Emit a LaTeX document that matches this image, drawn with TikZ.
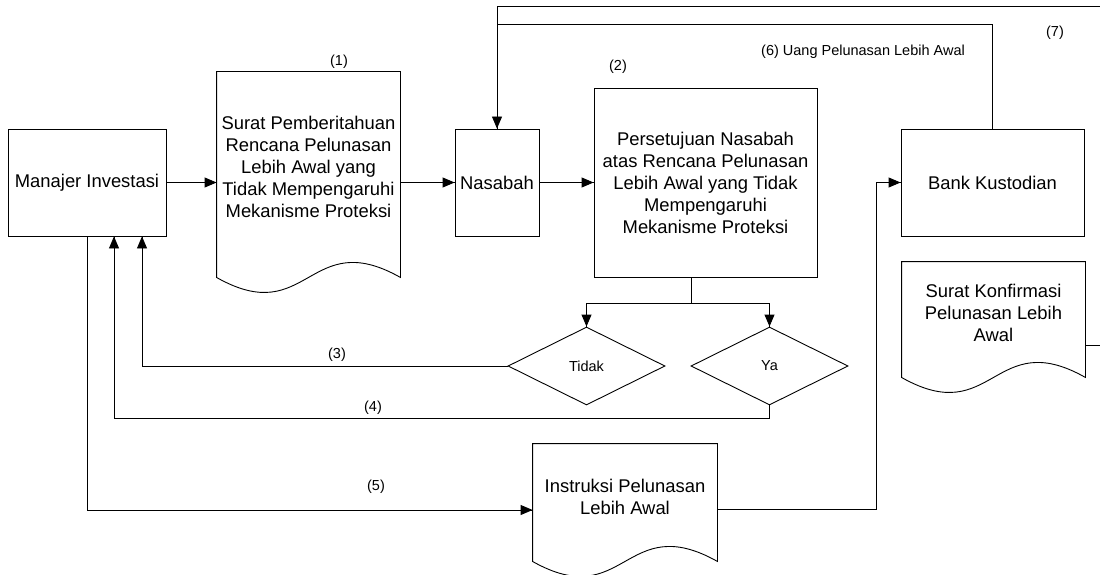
\documentclass[tikz,border=0pt]{standalone}
\usepackage{fontspec}
\setmainfont{Liberation Sans}
\tikzset{->/.style = {decoration={markings, mark=at position 1 with {\arrow[scale=1]{Triangle[length=12pt,width=10pt]}}}, postaction={decorate}}}
\tikzset{kotak/.style = {draw, rectangle, inner sep=0pt, align=center, font=\fontsize{18.4}{22}\selectfont}}
\tikzset{dok/.style = {rectangle, inner sep=0pt, align=center, font=\fontsize{18.4}{22}\selectfont}}
\tikzset{keputusan/.style = {draw, diamond, aspect=2, inner sep=0pt, minimum width=157pt, minimum height=78pt, font=\fontsize{14.5}{17}\selectfont}}
\tikzset{nomor/.style = {inner sep=0pt, font=\fontsize{14.5}{17}\selectfont}}
\newcommand{\dokumen}[2]{\draw (#1.north west) -- (#1.north east) -- ($(#1.south east)+(0,#2)$) .. controls ($(#1.south)+(0,#2-52)$) and ($(#1.south)+(0,#2+52)$) .. ($(#1.south west)+(0,#2)$) -- cycle;}
\usetikzlibrary{calc,arrows.meta,
                 shapes.geometric,
                 decorations.markings}

\begin{document}
\begin{tikzpicture}[x=1pt, y=-1pt, line width=0.9pt]
      \clip (0,0) rectangle (1100,575);
      \node[kotak, minimum width=158pt, minimum height=107pt] (mi) at (87,182.5) {Manajer Investasi};
      \node[dok, minimum width=183pt, minimum height=190pt] (spb) at (308.5,167) {Surat Pemberitahuan\\Rencana Pelunasan\\Lebih Awal yang\\Tidak Mempengaruhi\\Mekanisme Proteksi};
      \dokumen{spb}{15}
      \node[kotak, minimum width=84pt, minimum height=107pt] (nsb) at (497,182.5) {Nasabah};
      \node[kotak, minimum width=223pt, minimum height=189pt] (pst) at (705.5,182.5) {Persetujuan Nasabah\\atas Rencana Pelunasan\\Lebih Awal yang Tidak\\Mempengaruhi\\Mekanisme Proteksi};
      \node[kotak, minimum width=183pt, minimum height=107pt] (bk) at (992.5,182.5) {Bank Kustodian};
      \node[dok, minimum width=183pt, minimum height=102pt] (skp) at (993.5,313) {Surat Konfirmasi\\Pelunasan Lebih\\Awal};
      \dokumen{skp}{13}
      \node[keputusan] (tdk) at (586.5,366) {Tidak};
      \node[keputusan] (ya) at (769.5,366) {Ya};
      \node[dok, minimum width=184pt, minimum height=106pt] (ins) at (625,497) {Instruksi Pelunasan\\Lebih Awal};
      \dokumen{ins}{11}
      % nomor alur
      \node[nomor] (n1) at (339,62) {(1)};
      \node[nomor] (n2) at (618,67) {(2)};
      \node[nomor] (n3) at (337,355) {(3)};
      \node[nomor] (n4) at (373,408) {(4)};
      \node[nomor] (n5) at (376,487) {(5)};
      \node[nomor] (n6) at (863,52) {(6) Uang Pelunasan Lebih Awal};
      \node[nomor] (n7) at (1055,33) {(7)};
      % alur
      \draw [->] (mi.east) -- (mi.east -| spb.west);
      \draw [->] (spb.east |- nsb.west) -- (nsb.west);
      \draw [->] (nsb.east) -- (pst.west);
      \draw (pst.south) ++(-14,0) -- ++(0,26) coordinate (cabang);
      \draw [->] (cabang) -| (tdk.north);
      \draw [->] (cabang) -| (ya.north);
      \draw [->] (tdk.west) -| ($(mi.south)+(55,0)$);
      \draw [->] (ya.south) -- ++(0,13) -| ($(mi.south)+(27,0)$);
      \draw [->] (mi.south) |- ($(ins.west)+(0,13)$);
      \draw [->] ($(ins.east)+(0,12)$) -- ++(159,0) |- (bk.west);
      \coordinate (gabung) at ($(nsb.north)+(0,-104)$);
      \draw [->] (bk.north) |- (gabung) -- (nsb.north);
      \draw ($(skp.east)+(0,32)$) -- ++(40,0) |- ($(gabung)+(0,-18)$) -- (gabung);
    \end{tikzpicture}
\end{document}
